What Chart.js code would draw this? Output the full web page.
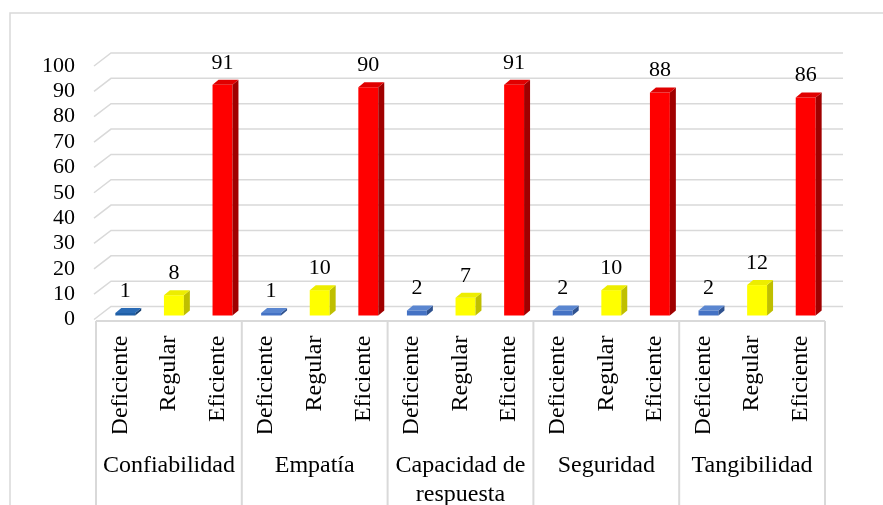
<!DOCTYPE html>
<html>
<head>
<meta charset="utf-8">
<script src="https://cdn.jsdelivr.net/npm/chart.js@4"></script>
<style>
  html, body { margin: 0; padding: 0; background: #ffffff; }
  #wrap { width: 883px; height: 505px; position: relative; }
</style>
</head>
<body>
<div id="wrap"><canvas id="c" width="883" height="505"></canvas></div>
<script>
// ---- data ----
const groups = ['Confiabilidad', 'Empatía', ['Capacidad de', 'respuesta'], 'Seguridad', 'Tangibilidad'];
const levels = ['Deficiente', 'Regular', 'Eficiente'];
const deficiente = [1, 1, 2, 2, 2];
const regular = [8, 10, 7, 10, 12];
const eficiente = [91, 90, 91, 88, 86];
const yTicks = [0, 10, 20, 30, 40, 50, 60, 70, 80, 90, 100];

// ---- styles ----
const FONT = "'Liberation Serif', 'Times New Roman', serif";
const GRID = '#D9D9D9';
const faceColors = {
  Deficiente: { front: '#4472C4', side: '#2F528F', top: '#5A86D0' },
  Regular:    { front: '#FFFF00', side: '#BFBF00', top: '#EDED00' },
  Eficiente:  { front: '#FF0000', side: '#A00000', top: '#E00000' }
};
const firstDefColors = { front: '#1F5FA6', side: '#153F70', top: '#2A6BB5' };

// ---- build table ----
const labels = [];
const values = [];
const groupLabels = [];
const barFaces = [];
groups.forEach((g, gi) => {
  const vals = [deficiente[gi], regular[gi], eficiente[gi]];
  levels.forEach((lv, li) => {
    labels.push(lv);
    values.push(vals[li]);
    groupLabels.push(li === 1 ? g : '');
    barFaces.push(gi === 0 && li === 0 ? firstDefColors : faceColors[lv]);
  });
});

const DEPTH_X = 5, DEPTH_Y = -4;   // bar plane offset behind the front plane
const BAR_DX = 6, BAR_DY = -5;     // bar depth

const threeD = {
  id: 'threeD',
  beforeDraw(chart) {
    const ctx = chart.ctx;
    ctx.save();
    ctx.strokeStyle = GRID;
    ctx.lineWidth = 1.5;
    ctx.beginPath();
    ctx.moveTo(10, 505);
    ctx.lineTo(10, 13);
    ctx.lineTo(883, 13);
    ctx.stroke();
    ctx.restore();
  },
  beforeDatasetsDraw(chart) {
    const ctx = chart.ctx;
    const a = chart.chartArea;
    const ys = chart.scales.y;
    const xs = chart.scales.x;
    ctx.save();
    ctx.strokeStyle = GRID;
    ctx.lineWidth = 1.5;
    // 3D gridlines: diagonal on left wall, then horizontal on back wall
    yTicks.forEach(v => {
      const py = ys.getPixelForValue(v);
      ctx.beginPath();
      ctx.moveTo(a.left - 2, py);
      ctx.lineTo(a.left + 15, py - 13);
      ctx.lineTo(a.right + 18, py - 13);
      ctx.stroke();
    });
    // table under the axis
    const catW = (a.right - a.left) / labels.length;
    const tableTop = a.bottom + 1.5;
    ctx.lineWidth = 2;
    ctx.beginPath();
    ctx.moveTo(a.left, tableTop);
    ctx.lineTo(a.right, tableTop);
    for (let k = 0; k <= groups.length; k++) {
      const px = k < groups.length
        ? xs.getPixelForValue(k * 3) - catW / 2
        : xs.getPixelForValue(labels.length - 1) + catW / 2;
      ctx.moveTo(px, tableTop);
      ctx.lineTo(px, 505);
    }
    ctx.stroke();
    ctx.restore();

    ctx.save();
    ctx.translate(DEPTH_X, DEPTH_Y);
  },
  afterDatasetsDraw(chart) {
    const ctx = chart.ctx;
    const meta = chart.getDatasetMeta(0);
    meta.data.forEach((bar, i) => {
      const p = bar.getProps(['x', 'y', 'base', 'width'], true);
      const l = p.x - p.width / 2, r = p.x + p.width / 2;
      const top = Math.min(p.y, p.base), bot = Math.max(p.y, p.base);
      const c = barFaces[i];
      // side face
      ctx.fillStyle = c.side;
      ctx.beginPath();
      ctx.moveTo(r, bot);
      ctx.lineTo(r + BAR_DX, bot + BAR_DY);
      ctx.lineTo(r + BAR_DX, top + BAR_DY);
      ctx.lineTo(r, top);
      ctx.closePath();
      ctx.fill();
      // top face
      ctx.fillStyle = c.top;
      ctx.beginPath();
      ctx.moveTo(l, top);
      ctx.lineTo(l + BAR_DX, top + BAR_DY);
      ctx.lineTo(r + BAR_DX, top + BAR_DY);
      ctx.lineTo(r, top);
      ctx.closePath();
      ctx.fill();
      // value label
      ctx.fillStyle = '#000000';
      ctx.font = '22px ' + FONT;
      ctx.textAlign = 'center';
      ctx.textBaseline = 'alphabetic';
      ctx.fillText(String(values[i]), p.x, top - 16);
    });
    ctx.restore();
  }
};

new Chart(document.getElementById('c'), {
  type: 'bar',
  data: {
    labels: labels,
    datasets: [{
      data: values,
      backgroundColor: barFaces.map(c => c.front),
      borderWidth: 0,
      barPercentage: 0.41,
      categoryPercentage: 1.0,
      clip: false
    }]
  },
  options: {
    responsive: false,
    animation: false,
    events: [],
    layout: { padding: { top: 66, right: 58, left: 0, bottom: 0 } },
    plugins: { legend: { display: false }, tooltip: { enabled: false } },
    scales: {
      y: {
        min: 0, max: 100,
        border: { display: false },
        grid: { display: false, drawTicks: false },
        afterBuildTicks(s) { s.ticks = yTicks.map(v => ({ value: v })); },
        ticks: { autoSkip: false, stepSize: 10, padding: 21, color: '#000000', font: { family: FONT, size: 22 } },
        afterFit(s) { s.width = 96; }
      },
      x: {
        position: 'bottom',
        weight: 0,
        border: { display: false },
        grid: { display: false, drawTicks: false },
        ticks: {
          autoSkip: false, minRotation: 90, maxRotation: 90, padding: 16,
          color: '#000000', font: { family: FONT, size: 24 }
        },
        afterFit(s) { s.height = 114; }
      },
      x2: {
        type: 'category',
        labels: groupLabels,
        position: 'bottom',
        weight: 1,
        offset: true,
        border: { display: false },
        grid: { display: false, drawTicks: false, offset: true },
        ticks: {
          autoSkip: false, minRotation: 0, maxRotation: 0, padding: 18,
          color: '#000000', font: { family: FONT, size: 24, lineHeight: 1.2 }
        },
        afterFit(s) { s.height = 71.5; }
      }
    }
  },
  plugins: [threeD]
});
</script>
</body>
</html>
